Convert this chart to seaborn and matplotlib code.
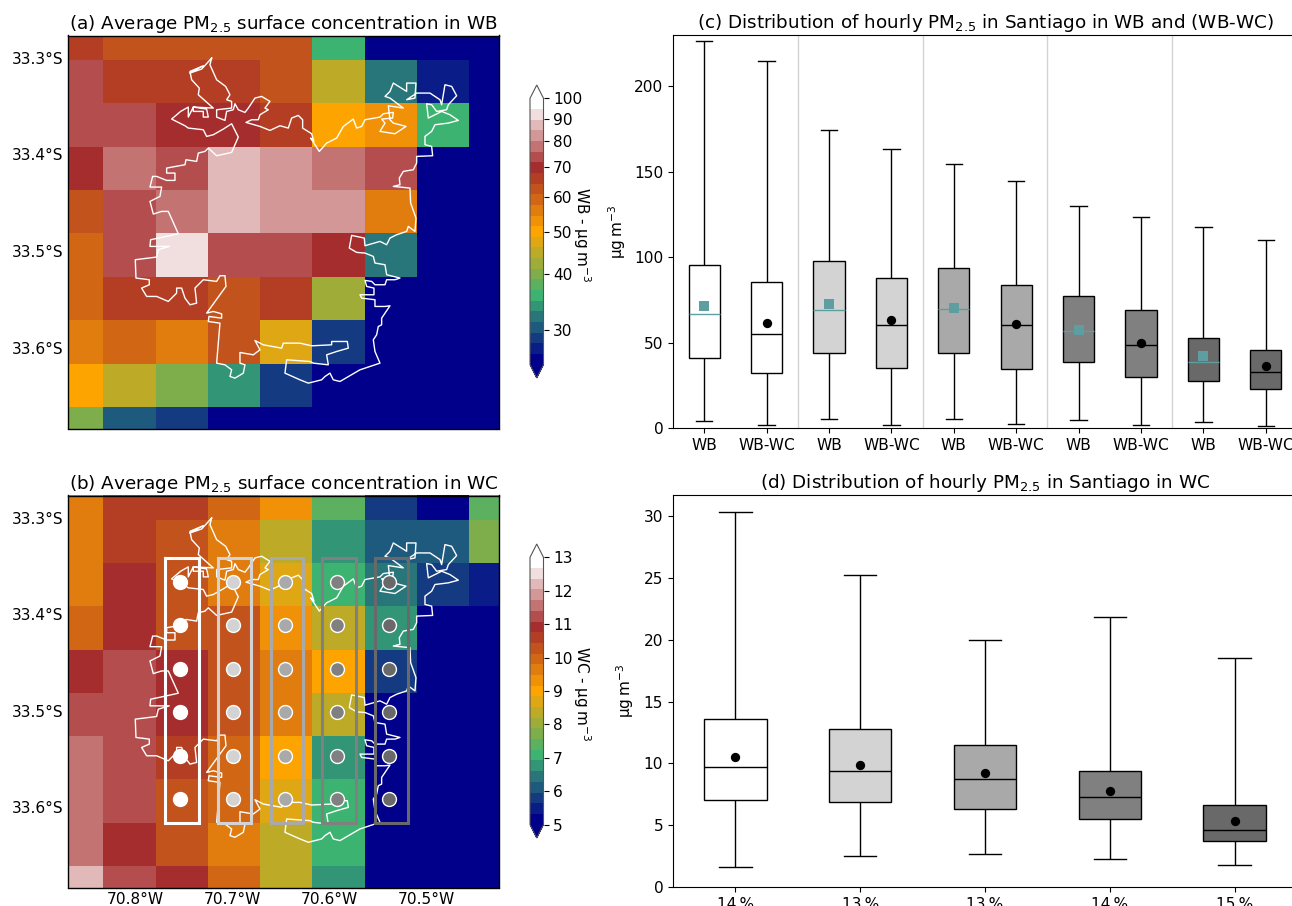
import numpy as np
import pandas as pd
import matplotlib
matplotlib.use("Agg")
import matplotlib.pyplot as plt
from matplotlib.cm import ScalarMappable
from matplotlib.colors import BoundaryNorm, ListedColormap
import seaborn as sns

# map cells (ug/m3)
wb_map = [
    [66, 62.5, 62.5, 62.5, 62.5, 35.9, 20, 20, 20],
    [73.8, 66, 66, 66, 62.5, 44.8, 32.1, 27.2, 20],
    [73.8, 73.8, 69.8, 69.8, 66, 50, 52.9, 35.9, 20],
    [69.8, 78, 73.8, 87.1, 82.4, 78, 73.8, 20, 20],
    [62.5, 73.8, 78, 87.1, 82.4, 82.4, 55.9, 20, 20],
    [59.1, 73.8, 92.1, 73.8, 73.8, 69.8, 32.1, 20, 20],
    [59.1, 66, 66, 62.5, 66, 42.4, 20, 20, 20],
    [55.9, 59.1, 55.9, 62.5, 47.3, 28.7, 20, 20, 20],
    [50, 44.8, 40.1, 33.9, 28.7, 20, 20, 20, 20],
    [40.1, 30.4, 28.7, 20, 20, 20, 20, 20, 20],
]
wc_map = [
    [9.64, 10.6, 10.6, 9.96, 9.32, 7.4, 5.8, 4.5, 7.4],
    [9.64, 10.6, 10.28, 9.64, 8.36, 6.76, 6.12, 6.12, 7.72],
    [9.64, 10.92, 10.28, 9.64, 8.68, 7.08, 6.44, 5.8, 5.48],
    [9.96, 10.92, 10.28, 10.28, 9.32, 8.36, 6.76, 4.5, 4.5],
    [10.92, 11.24, 10.92, 10.28, 9.64, 9.0, 5.8, 4.5, 4.5],
    [11.24, 11.24, 10.92, 10.28, 9.64, 8.36, 4.5, 4.5, 4.5],
    [11.56, 11.24, 10.6, 9.96, 9.0, 6.76, 4.5, 4.5, 4.5],
    [11.56, 11.24, 10.28, 9.96, 8.68, 7.08, 4.5, 4.5, 4.5],
    [11.56, 10.92, 10.28, 9.64, 8.36, 7.08, 4.5, 4.5, 4.5],
    [12.2, 11.24, 10.92, 9.96, 8.36, 6.76, 4.5, 4.5, 4.5],
]
lon_edges = [-70.8866, -70.8327, -70.7788, -70.7249, -70.671, -70.6171, -70.5632, -70.5093, -70.4554, -70.4015]
lat_edges = [-33.2572, -33.302, -33.3469, -33.3918, -33.4367, -33.4816, -33.5265, -33.5713, -33.6162, -33.6611, -33.706]
lon_lim = [-70.8687, -70.4247]
lat_lim = [-33.277, -33.6833]
lon_ticks = [-70.8, -70.7, -70.6, -70.5]
lat_ticks = [-33.3, -33.4, -33.5, -33.6]

# colour scale
scale_colors = ["darkblue", "mediumseagreen", "orange", "brown", "white"]
wb_ticks = [30, 40, 50, 60, 70, 80, 90, 100]
wc_ticks = [5, 6, 7, 8, 9, 10, 11, 12, 13]

# city outline, digitised (x east, y south) then calibrated to degrees below
trace_x = [455, 450, 470, 497, 510, 500, 515, 515, 470, 470, 495, 500, 520, 525, 535, 555, 565, 585, 605, 630, 615, 625, 600, 595, 575, 558, 600, 630, 660, 685, 695, 715, 728, 728, 755, 762, 752, 778, 800, 830, 850, 880, 890, 905, 915, 960, 970, 1000, 998, 965, 975, 960, 1005, 1038, 1000, 990, 985, 1030, 990, 975, 990, 1000, 1040, 1040, 1068, 1065, 1040, 1070, 1110, 1140, 1145, 1155, 1175, 1190, 1165, 1160, 1130, 1115, 1100, 1105, 1145, 1170, 1195, 1165, 1125, 1115, 1095, 1095, 1115, 1118, 1070, 1070, 1060, 1030, 1018, 1020, 1000, 1050, 1052, 1068, 1065, 1045, 1040, 1010, 990, 980, 960, 915, 913, 875, 868, 890, 915, 940, 945, 975, 980, 1020, 1005, 980, 975, 945, 935, 915, 920, 942, 942, 900, 905, 945, 945, 975, 990, 975, 965, 965, 955, 950, 940, 945, 960, 900, 840, 820, 810, 795, 785, 745, 720, 675, 680, 750, 760, 805, 800, 830, 865, 862, 815, 815, 755, 720, 670, 665, 610, 585, 600, 580, 540, 540, 555, 550, 525, 510, 515, 495, 470, 480, 445, 447, 485, 485, 460, 440, 498, 495, 480, 470, 430, 405, 410, 390, 375, 365, 350, 350, 325, 290, 260, 245, 268, 268, 228, 226, 290, 295, 328, 270, 272, 310, 355, 325, 305, 280, 270, 300, 305, 270, 278, 290, 320, 345, 345, 320, 320, 375, 378, 410, 415, 435, 445, 470, 515, 535, 515, 490, 460, 440, 430, 385, 375, 335, 362, 385, 385, 400, 440, 445, 430, 430, 400, 400, 460, 415, 418, 395, 390, 430, 390, 425, 455]
trace_y = [85, 105, 150, 170, 195, 210, 215, 235, 240, 262, 272, 245, 240, 222, 240, 248, 235, 205, 200, 215, 235, 240, 255, 270, 270, 278, 290, 302, 288, 295, 265, 257, 270, 295, 312, 335, 325, 365, 340, 325, 290, 268, 295, 290, 270, 262, 252, 248, 265, 268, 280, 305, 312, 290, 280, 270, 228, 235, 205, 200, 185, 160, 185, 160, 160, 205, 210, 190, 190, 210, 225, 165, 170, 198, 225, 240, 245, 225, 222, 265, 245, 255, 272, 280, 285, 305, 320, 345, 350, 378, 380, 400, 420, 425, 445, 465, 470, 475, 520, 565, 605, 590, 605, 615, 625, 645, 635, 648, 625, 617, 655, 668, 670, 680, 700, 705, 735, 745, 750, 750, 765, 765, 755, 752, 770, 775, 795, 795, 805, 810, 830, 830, 828, 850, 865, 885, 890, 915, 930, 965, 1000, 1020, 1055, 1050, 1030, 1040, 1050, 1060, 1050, 1030, 990, 995, 1000, 1005, 975, 965, 955, 935, 935, 945, 948, 940, 940, 955, 945, 932, 960, 975, 968, 1000, 1005, 1030, 1045, 1040, 1020, 1005, 1000, 880, 875, 860, 865, 852, 845, 850, 770, 738, 738, 755, 750, 775, 820, 825, 805, 775, 775, 790, 815, 800, 800, 775, 765, 750, 745, 690, 682, 660, 650, 650, 630, 622, 612, 545, 545, 553, 515, 500, 472, 472, 440, 440, 452, 452, 430, 430, 415, 405, 390, 395, 370, 365, 355, 378, 368, 322, 282, 298, 315, 320, 300, 295, 288, 268, 245, 232, 262, 232, 238, 262, 262, 245, 245, 232, 235, 195, 175, 150, 125, 108, 130, 118, 85]

# WC sampling columns
site_lon = [-70.7536, -70.699, -70.6457, -70.5917, -70.5378]
site_lat = [-33.3665, -33.4113, -33.4565, -33.5013, -33.5468, -33.5916]
rect_west = [-70.769, -70.7148, -70.66, -70.6069, -70.5529]
rect_east = [-70.734, -70.6804, -70.6264, -70.5721, -70.5185]
rect_north = -33.3417
rect_south = -33.6168
group_colors = ["white", "lightgrey", "darkgrey", "grey", "dimgrey"]

# boxplots: min, q1, median, q3, max and means
c_labels = ["WB", "WB-WC"] * 5
c_min = [4, 2, 5, 2, 5, 2.5, 4.5, 1.5, 3.5, 1]
c_q1 = [41, 32, 44, 35, 44, 34.5, 38.5, 30, 27.5, 23]
c_med = [66.5, 55, 69, 60, 69.5, 60, 56.5, 48.5, 38.5, 33]
c_q3 = [95.5, 85.5, 98, 87.5, 93.5, 83.5, 77, 69, 52.5, 45.5]
c_max = [226.5, 215, 174.5, 163.5, 154.5, 144.5, 130, 123.5, 117.5, 110]
c_mean = [71.5, 61.5, 72.5, 63, 70, 61, 57.5, 50, 42, 36.5]

d_labels = ["14\u2009%", "13\u2009%", "13\u2009%", "14\u2009%", "15\u2009%"]
d_min = [1.6, 2.5, 2.7, 2.3, 1.8]
d_q1 = [7, 6.9, 6.3, 5.5, 3.7]
d_med = [9.7, 9.4, 8.7, 7.3, 4.6]
d_q3 = [13.6, 12.8, 11.5, 9.4, 6.6]
d_max = [30.3, 25.2, 20, 21.8, 18.5]
d_mean = [10.5, 9.9, 9.2, 7.8, 5.3]

unit = "\u00b5g\u2009m$^{-3}$"
W, H = 1292, 906
TICK = 11.1
TITLE = 13.2


def px_axes(fig, left, top, right, bottom):
    return fig.add_axes([left / W, 1 - bottom / H, (right - left) / W, (bottom - top) / H])


def to_x(lon):
    return np.interp(lon, lon_edges, np.arange(len(lon_edges)))


def to_y(lat):
    return np.interp(-np.asarray(lat), -np.array(lat_edges), np.arange(len(lat_edges)))


def fmt_lon(v):
    return f"{abs(v):.1f}°W"


def fmt_lat(v):
    return f"{abs(v):.1f}°S"


def draw_map(ax, values, levels, title):
    cmap = ListedColormap(sns.blend_palette(scale_colors, 25))
    cmap.set_under("darkblue")
    cmap.set_over("white")
    norm = BoundaryNorm(levels, 25)
    sns.heatmap(pd.DataFrame(values), ax=ax, cmap=cmap, norm=norm, cbar=False,
                xticklabels=False, yticklabels=False)
    outline_lon = -70.8773 + np.array(trace_x) / 2910
    outline_lat = -33.271 - np.array(trace_y) / 2901
    ax.plot(to_x(outline_lon), to_y(outline_lat), color="white", lw=1)
    ax.set_xlim(to_x(lon_lim[0]), to_x(lon_lim[1]))
    ax.set_ylim(to_y(lat_lim[1]), to_y(lat_lim[0]))
    ax.set_yticks(to_y(lat_ticks))
    ax.set_yticklabels([fmt_lat(v) for v in lat_ticks], fontsize=TICK)
    ax.tick_params(length=0)
    for s in ax.spines.values():
        s.set_visible(True)
        s.set_color("black")
        s.set_linewidth(1)
    ax.set_title(title, fontsize=TITLE, pad=5)
    return cmap, norm


def draw_cbar(fig, cax, cmap, norm, ticks, label, label_x):
    sm = ScalarMappable(norm=norm, cmap=cmap)
    cb = fig.colorbar(sm, cax=cax, extend="both", extendfrac=0.05, spacing="uniform", ticks=ticks)
    cb.ax.set_yticklabels([str(t) for t in ticks], fontsize=TICK)
    cb.ax.minorticks_off()
    cb.outline.set_edgecolor("#555555")
    cb.set_label(label, rotation=270, fontsize=11)
    cb.ax.yaxis.set_label_coords(label_x, 0.49)


def box_table(ids, lo, q1, med, q3, hi):
    rows = []
    for i, name in enumerate(ids):
        # five numbers give back the same quartiles, whiskers run to min and max
        for v in [lo[i], q1[i], med[i], q3[i], hi[i]]:
            rows.append({"box": name, "value": v})
    return pd.DataFrame(rows)


def draw_boxes(ax, df, ids, colors, median_color):
    pal = dict(zip(ids, colors))
    sns.boxplot(data=df, x="box", y="value", order=ids, hue="box", hue_order=ids, palette=pal,
                ax=ax, whis=(0, 100), width=0.5, saturation=1, linecolor="black", linewidth=1,
                dodge=False, legend=False, capwidths=0.26,
                medianprops={"color": median_color, "linewidth": 1})


fig = plt.figure(figsize=(W / 100, H / 100), dpi=100)

# (a)
ax_a = px_axes(fig, 68.3, 35.5, 499, 428.5)
wb_levels = np.geomspace(25, 100, 26)
cmap, norm = draw_map(ax_a, wb_map, wb_levels, r"(a) Average PM$_{2.5}$ surface concentration in WB")
cax_a = px_axes(fig, 530, 85, 543.5, 378)
draw_cbar(fig, cax_a, cmap, norm, wb_ticks, "WB - " + unit, 4.67)

# (b)
ax_b = px_axes(fig, 68.3, 495.5, 499, 887.5)
wc_levels = np.linspace(5, 13, 26)
cmap, norm = draw_map(ax_b, wc_map, wc_levels, r"(b) Average PM$_{2.5}$ surface concentration in WC")
ax_b.set_xticks(to_x(lon_ticks))
ax_b.set_xticklabels([fmt_lon(v) for v in lon_ticks], fontsize=TICK)
ax_b.tick_params(axis="x", pad=3)
cax_b = px_axes(fig, 530, 544, 543.5, 838)
draw_cbar(fig, cax_b, cmap, norm, wc_ticks, "WC - " + unit, 4.65)

for i, col in enumerate(group_colors):
    xs = to_x([rect_west[i], rect_east[i], rect_east[i], rect_west[i], rect_west[i]])
    ys = to_y([rect_north, rect_north, rect_south, rect_south, rect_north])
    ax_b.plot(xs, ys, color=col, lw=2.2, solid_joinstyle="miter")
    sns.scatterplot(x=to_x([site_lon[i]] * len(site_lat)), y=to_y(site_lat), ax=ax_b, s=100,
                    color=col, edgecolor="white", linewidth=1, legend=False, zorder=5)
ax_b.set_xlim(to_x(lon_lim[0]), to_x(lon_lim[1]))
ax_b.set_ylim(to_y(lat_lim[1]), to_y(lat_lim[0]))

# (c), axes run a little past the right edge of the figure as in the original
ax_c = px_axes(fig, 673, 35, 1297, 428)
c_ids = [f"{lab}{i}" for i, lab in enumerate(c_labels)]
c_colors = [c for c in group_colors for _ in range(2)]
c_df = box_table(c_ids, c_min, c_q1, c_med, c_q3, c_max)
wb_ids = c_ids[0::2]
wbwc_ids = c_ids[1::2]
draw_boxes(ax_c, c_df[c_df["box"].isin(wb_ids)], c_ids, c_colors, "cadetblue")
draw_boxes(ax_c, c_df[c_df["box"].isin(wbwc_ids)], c_ids, c_colors, "black")
sns.scatterplot(x=np.arange(10)[0::2], y=c_mean[0::2], ax=ax_c, marker="s", s=45, color="cadetblue",
                linewidth=0, zorder=5, legend=False)
sns.scatterplot(x=np.arange(10)[1::2], y=c_mean[1::2], ax=ax_c, marker="o", s=45, color="black",
                linewidth=0, zorder=5, legend=False)
for sep in [1.5, 3.5, 5.5, 7.5]:
    ax_c.axvline(sep, color="lightgrey", lw=1, zorder=0)
ax_c.set_xlim(-0.5, 9.5)
ax_c.set_ylim(0, 230)
ax_c.set_xticks(np.arange(10))
ax_c.set_xticklabels(c_labels, fontsize=TICK)
ax_c.tick_params(axis="y", labelsize=TICK)
ax_c.set_xlabel("")
ax_c.set_ylabel(unit, fontsize=11)
ax_c.yaxis.set_label_coords(-0.072, 0.5)
ax_c.set_title(r"(c) Distribution of hourly PM$_{2.5}$ in Santiago in WB and (WB-WC)", fontsize=TITLE, pad=5)

# (d)
ax_d = px_axes(fig, 673, 495, 1297, 887)
d_ids = [f"g{i}" for i in range(5)]
d_df = box_table(d_ids, d_min, d_q1, d_med, d_q3, d_max)
draw_boxes(ax_d, d_df, d_ids, group_colors, "black")
sns.scatterplot(x=np.arange(5), y=d_mean, ax=ax_d, marker="o", s=45, color="black", linewidth=0,
                zorder=5, legend=False)
ax_d.set_xlim(-0.5, 4.5)
ax_d.set_ylim(0, 31.7)
ax_d.set_xticks(np.arange(5))
ax_d.set_xticklabels(d_labels, fontsize=TICK)
ax_d.tick_params(axis="y", labelsize=TICK)
ax_d.set_xlabel("")
ax_d.set_ylabel(unit, fontsize=11)
ax_d.yaxis.set_label_coords(-0.06, 0.5)
ax_d.set_title(r"(d) Distribution of hourly PM$_{2.5}$ in Santiago in WC", fontsize=TITLE, pad=5)

fig.savefig("out.png", dpi=100)
